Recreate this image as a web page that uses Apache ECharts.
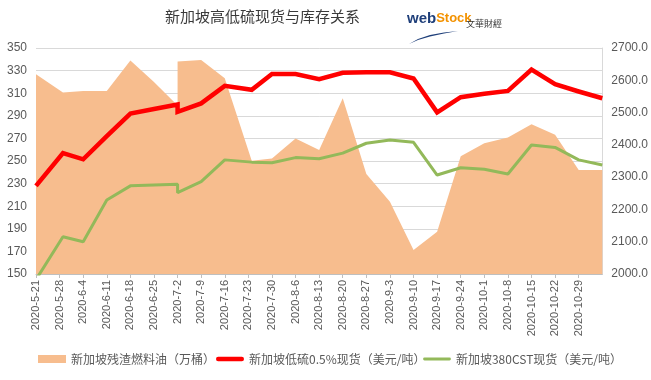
<!DOCTYPE html>
<html><head><meta charset="utf-8">
<script src="https://cdn.jsdelivr.net/npm/echarts@6/dist/echarts.min.js"></script>
<style>html,body{margin:0;padding:0;background:#fff}#c{width:651px;height:380px}</style>
</head><body><div id="c"></div>
<script>
// ---- data ----
var titleText = '新加坡高低硫现货与库存关系';
var dates = ['2020-5-21','2020-5-29','2020-6-4','2020-6-11','2020-6-18','2020-6-25','2020-7-2','2020-7-2','2020-7-9','2020-7-16','2020-7-24','2020-7-30','2020-8-6','2020-8-13','2020-8-20','2020-8-27','2020-9-3','2020-9-10','2020-9-17','2020-9-24','2020-10-1','2020-10-8','2020-10-15','2020-10-22','2020-10-29','2020-11-5'];
var inventory = [2619,2562,2567,2567,2661,2595,2522,2658,2663,2606,2351,2358,2420,2384,2544,2310,2224,2074,2131,2365,2405,2423,2464,2431,2322,2322];
var lowSulfur = [228,257,251.5,272,292,296,300,293.5,301,316.5,313,327,327,322.5,328,328.5,328.5,323,293,306.5,309.5,312,331,318,311.5,305.5];
var cst380 = [145,183,178.6,215.5,228,228.8,229.4,222,231.7,251,249,248.5,253,252,257,265.7,268.6,266.5,237.6,244,242.7,238.5,264.2,262,251,246.5];
var seriesNames = ['新加坡残渣燃料油（万桶）','新加坡低硫0.5%现货（美元/吨）','新加坡380CST现货（美元/吨）'];
var startDate = '2020-5-21';
var endDate = '2020-11-5';

// ---- helpers ----
function dayNum(s){var p=s.split('-');return Date.UTC(+p[0],+p[1]-1,+p[2])/86400000;}
var d0 = dayNum(startDate), dMax = dayNum(endDate) - d0;
function fmt(off){var d=new Date((d0+off)*86400000);return d.getUTCFullYear()+'-'+(d.getUTCMonth()+1)+'-'+d.getUTCDate();}
function pairs(vals){return dates.map(function(s,i){return [dayNum(s)-d0, vals[i]];});}

var chart = echarts.init(document.getElementById('c'));
var txt = '#595959';
var redIcon = 'path://M0,0 L0,0 M0,8 L0,8 M2,1.8 H26 A2.2,2.2 0 0 1 26,6.2 H2 A2.2,2.2 0 0 1 2,1.8 Z';
var greenIcon = 'path://M0,0 L0,0 M0,8 L0,8 M1.5,2.6 H26.5 A1.4,1.4 0 0 1 26.5,5.4 H1.5 A1.4,1.4 0 0 1 1.5,2.6 Z';
var icons = ['rect', redIcon, greenIcon];
var legendLefts = [38, 216, 423];
function mkLegend(i){
  return {left:legendLefts[i],top:353,padding:0,itemGap:6,itemWidth:28,itemHeight:8,
    textStyle:{fontFamily:'Noto Sans CJK SC',fontSize:12,color:txt},
    data:[{name:seriesNames[i],icon:icons[i]}]};
}
chart.setOption({
  animation:false,
  backgroundColor:'#fff',
  title:{text:titleText,left:165,top:9,padding:0,textStyle:{fontFamily:'Noto Sans CJK SC',fontSize:15,fontWeight:'normal',color:'#3a3a3a'}},
  graphic:[
    {type:'text',x:407,y:11,style:{text:'{a|web}{b|Stock}',rich:{a:{fontFamily:'Liberation Sans',fontWeight:'bold',fontSize:15,fill:'#1f3f7a'},b:{fontFamily:'Liberation Sans',fontWeight:'bold',fontSize:13,fill:'#f39200'}}}},
    {type:'text',x:466,y:19,style:{text:'文華財經',fontFamily:'Noto Sans CJK TC',fontSize:9,fill:'#333'}},
    {type:'polygon',shape:{points:[[409,44],[418,39],[430,35],[444,32.5],[458,31],[444,33.5],[430,36.5],[418,40]]},style:{fill:'#1f3f7a'}}
  ],
  grid:{left:36,right:48,top:48,bottom:106},
  legend:[mkLegend(0), mkLegend(1), mkLegend(2)],
  xAxis:{type:'value',min:0,max:dMax,interval:7,
    axisLine:{lineStyle:{color:'#bfbfbf'}},
    axisTick:{show:true,length:4,lineStyle:{color:'#bfbfbf'}},
    splitLine:{show:false},
    axisLabel:{rotate:90,margin:6,fontSize:11,color:txt,fontFamily:'Liberation Sans',showMaxLabel:false,formatter:function(v){return fmt(v);}}},
  yAxis:[
    {type:'value',min:150,max:350,interval:20,
      axisLine:{show:false},axisTick:{show:false},
      splitLine:{lineStyle:{color:'#d9d9d9'}},
      axisLabel:{margin:9,fontSize:12,color:txt,fontFamily:'Liberation Sans'}},
    {type:'value',min:2000,max:2700,interval:100,
      axisLine:{show:true,lineStyle:{color:'#d9d9d9'}},axisTick:{show:false},
      splitLine:{show:false},
      axisLabel:{margin:9,fontSize:12,color:txt,fontFamily:'Liberation Sans',formatter:function(v){return v.toFixed(1);}}}
  ],
  series:[
    {name:seriesNames[0],type:'line',yAxisIndex:1,data:pairs(inventory),symbol:'none',
      lineStyle:{width:0,color:'#F7BD8E'},itemStyle:{color:'#F7BD8E'},
      areaStyle:{color:'#F7BD8E',opacity:1,origin:'start'},z:1},
    {name:seriesNames[1],type:'line',yAxisIndex:0,data:pairs(lowSulfur),symbol:'none',
      lineStyle:{width:4.5,color:'#FF0000',join:'miter'},itemStyle:{color:'#FF0000'},z:3},
    {name:seriesNames[2],type:'line',yAxisIndex:0,data:pairs(cst380),symbol:'none',
      lineStyle:{width:3,color:'#93B95A'},itemStyle:{color:'#93B95A'},z:2}
  ]
});
</script></body></html>
